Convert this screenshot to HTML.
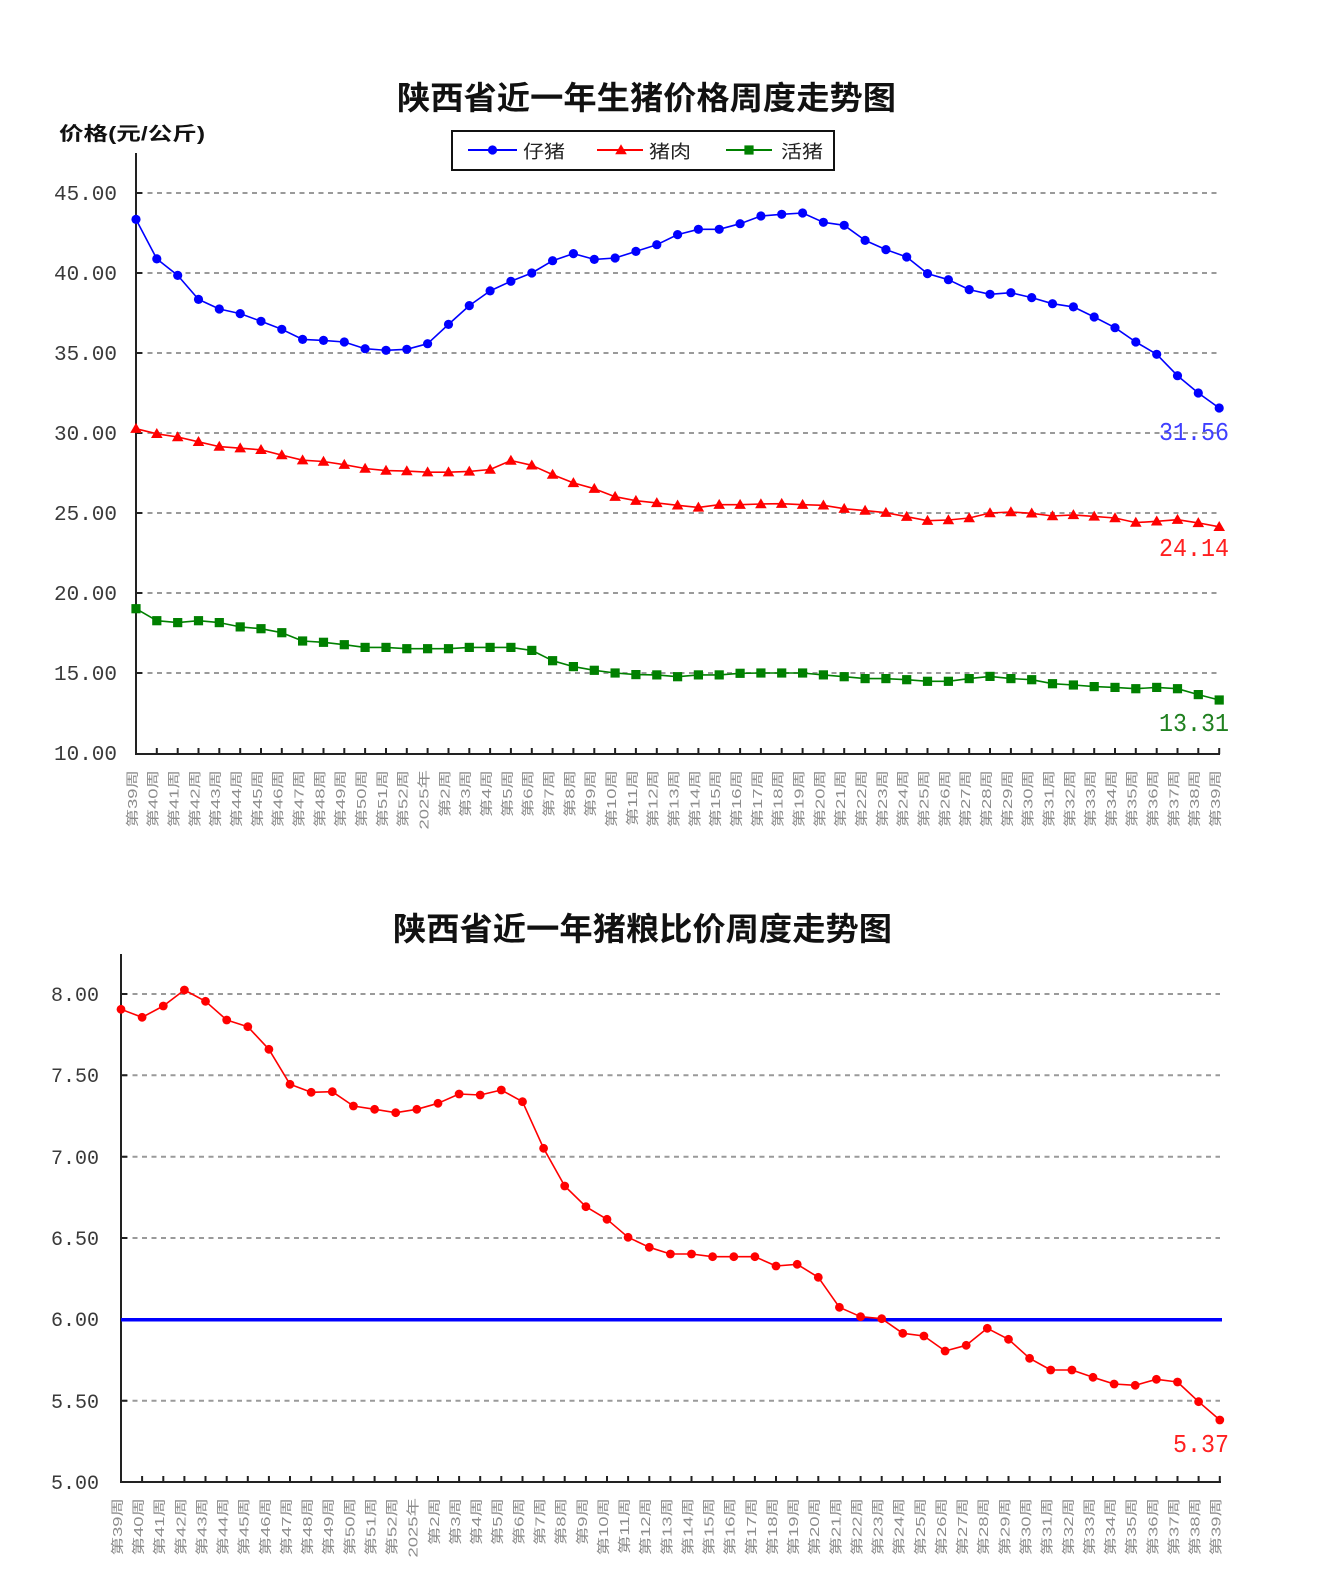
<!DOCTYPE html>
<html><head><meta charset="utf-8">
<style>
html,body{margin:0;padding:0;background:#fff;}
svg{display:block;}
.t{font-family:"Liberation Sans","Noto Sans CJK SC",sans-serif;font-weight:bold;fill:#111;}
.yl{font-family:"Liberation Mono",monospace;fill:#3a3a3a;text-anchor:end;}
.xl{font-family:"Liberation Sans","Noto Sans CJK SC",sans-serif;font-size:13px;fill:#8c8c8c;text-anchor:end;}
.dl{font-family:"Liberation Mono",monospace;text-anchor:end;}
.lg{font-family:"Liberation Sans","Noto Sans CJK SC",sans-serif;font-size:18px;fill:#222;}
</style></head>
<body>
<svg width="1324" height="1590" viewBox="0 0 1324 1590" xmlns="http://www.w3.org/2000/svg">
<defs>
<circle id="mb" r="4.6" fill="#0000ff"/>
<path id="mr" d="M0,-5.8 L5.8,4.2 L-5.8,4.2 Z" fill="#ff0000"/>
<rect id="mg" x="-4.6" y="-4.6" width="9.2" height="9.2" fill="#008000"/>
<circle id="mr2" r="4.4" fill="#ff0000"/>
</defs>
<rect width="1324" height="1590" fill="#fff"/>

<!-- ============ TOP CHART ============ -->
<text class="t" x="397" y="109" font-size="32" textLength="499" lengthAdjust="spacingAndGlyphs">陕西省近一年生猪价格周度走势图</text>
<text class="t" x="59" y="140" font-size="19" textLength="146" lengthAdjust="spacingAndGlyphs">价格(元/公斤)</text>

<!-- legend -->
<rect x="452" y="131" width="382" height="39" fill="#fff" stroke="#111" stroke-width="2"/>
<line x1="468" y1="150" x2="517" y2="150" stroke="#0000ff" stroke-width="2"/>
<use href="#mb" x="492.5" y="150"/>
<text class="lg" x="523" y="158" textLength="42" lengthAdjust="spacingAndGlyphs">仔猪</text>
<line x1="597" y1="150" x2="643" y2="150" stroke="#ff0000" stroke-width="2"/>
<use href="#mr" x="621" y="150"/>
<text class="lg" x="649" y="158" textLength="42" lengthAdjust="spacingAndGlyphs">猪肉</text>
<line x1="726" y1="150" x2="772" y2="150" stroke="#008000" stroke-width="2"/>
<use href="#mg" x="749" y="150"/>
<text class="lg" x="781" y="158" textLength="42" lengthAdjust="spacingAndGlyphs">活猪</text>

<!-- gridlines -->
<g stroke="#9a9a9a" stroke-width="2" stroke-dasharray="5 4.5">
<line x1="138" y1="193" x2="1219" y2="193"/>
<line x1="138" y1="273" x2="1219" y2="273"/>
<line x1="138" y1="353" x2="1219" y2="353"/>
<line x1="138" y1="433" x2="1219" y2="433"/>
<line x1="138" y1="513" x2="1219" y2="513"/>
<line x1="138" y1="593" x2="1219" y2="593"/>
<line x1="138" y1="673" x2="1219" y2="673"/>
</g>

<!-- y labels -->
<g class="yl" font-size="21">
<text x="117" y="200">45.00</text>
<text x="117" y="280">40.00</text>
<text x="117" y="360">35.00</text>
<text x="117" y="440">30.00</text>
<text x="117" y="520">25.00</text>
<text x="117" y="600">20.00</text>
<text x="117" y="680">15.00</text>
<text x="117" y="760">10.00</text>
</g>

<!-- axes -->
<path d="M136,153 V754 H1220" fill="none" stroke="#222" stroke-width="2"/>
<path d="M136,193h6M136,273h6M136,353h6M136,433h6M136,513h6M136,593h6M136,673h6" stroke="#222" stroke-width="2"/>
<path d="M156.8,754v-6M177.7,754v-6M198.5,754v-6M219.3,754v-6M240.2,754v-6M261,754v-6M281.8,754v-6M302.6,754v-6M323.5,754v-6M344.3,754v-6M365.1,754v-6M386,754v-6M406.8,754v-6M427.6,754v-6M448.5,754v-6M469.3,754v-6M490.1,754v-6M510.9,754v-6M531.8,754v-6M552.6,754v-6M573.4,754v-6M594.3,754v-6M615.1,754v-6M635.9,754v-6M656.8,754v-6M677.6,754v-6M698.4,754v-6M719.2,754v-6M740.1,754v-6M760.9,754v-6M781.7,754v-6M802.6,754v-6M823.4,754v-6M844.2,754v-6M865.1,754v-6M885.9,754v-6M906.7,754v-6M927.5,754v-6M948.4,754v-6M969.2,754v-6M990,754v-6M1010.9,754v-6M1031.7,754v-6M1052.5,754v-6M1073.4,754v-6M1094.2,754v-6M1115,754v-6M1135.8,754v-6M1156.7,754v-6M1177.5,754v-6M1198.3,754v-6M1219.2,754v-6" stroke="#222" stroke-width="2"/>

<!-- series: blue -->
<polyline fill="none" stroke="#0000ff" stroke-width="1.6" stroke-linejoin="round" points="136,219.4 156.8,258.9 177.7,275.4 198.5,299.4 219.3,309 240.2,313.6 261,321.3 281.8,329.3 302.6,339.4 323.5,340.4 344.3,342 365.1,348.7 386,350.3 406.8,349.3 427.6,343.7 448.5,324.4 469.3,305.6 490.1,290.9 510.9,281.3 531.8,273 552.6,260.7 573.4,253.6 594.3,259.4 615.1,258 635.9,251.4 656.8,244.7 677.6,234.6 698.4,229.3 719.2,229.3 740.1,223.7 760.9,216 781.7,214.3 802.6,213 823.4,222.3 844.2,225.3 865.1,240.4 885.9,249.6 906.7,257 927.5,273.6 948.4,279.7 969.2,289.6 990,294.3 1010.9,292.7 1031.7,297.6 1052.5,303.7 1073.4,306.9 1094.2,317 1115,327.7 1135.8,342 1156.7,354.3 1177.5,375.7 1198.3,393 1219.2,408"/>
<g>
<use href="#mb" x="136" y="219.4"/><use href="#mb" x="156.8" y="258.9"/><use href="#mb" x="177.7" y="275.4"/><use href="#mb" x="198.5" y="299.4"/><use href="#mb" x="219.3" y="309"/><use href="#mb" x="240.2" y="313.6"/><use href="#mb" x="261" y="321.3"/><use href="#mb" x="281.8" y="329.3"/><use href="#mb" x="302.6" y="339.4"/><use href="#mb" x="323.5" y="340.4"/><use href="#mb" x="344.3" y="342"/><use href="#mb" x="365.1" y="348.7"/><use href="#mb" x="386" y="350.3"/><use href="#mb" x="406.8" y="349.3"/><use href="#mb" x="427.6" y="343.7"/><use href="#mb" x="448.5" y="324.4"/><use href="#mb" x="469.3" y="305.6"/><use href="#mb" x="490.1" y="290.9"/><use href="#mb" x="510.9" y="281.3"/><use href="#mb" x="531.8" y="273"/><use href="#mb" x="552.6" y="260.7"/><use href="#mb" x="573.4" y="253.6"/><use href="#mb" x="594.3" y="259.4"/><use href="#mb" x="615.1" y="258"/><use href="#mb" x="635.9" y="251.4"/><use href="#mb" x="656.8" y="244.7"/><use href="#mb" x="677.6" y="234.6"/><use href="#mb" x="698.4" y="229.3"/><use href="#mb" x="719.2" y="229.3"/><use href="#mb" x="740.1" y="223.7"/><use href="#mb" x="760.9" y="216"/><use href="#mb" x="781.7" y="214.3"/><use href="#mb" x="802.6" y="213"/><use href="#mb" x="823.4" y="222.3"/><use href="#mb" x="844.2" y="225.3"/><use href="#mb" x="865.1" y="240.4"/><use href="#mb" x="885.9" y="249.6"/><use href="#mb" x="906.7" y="257"/><use href="#mb" x="927.5" y="273.6"/><use href="#mb" x="948.4" y="279.7"/><use href="#mb" x="969.2" y="289.6"/><use href="#mb" x="990" y="294.3"/><use href="#mb" x="1010.9" y="292.7"/><use href="#mb" x="1031.7" y="297.6"/><use href="#mb" x="1052.5" y="303.7"/><use href="#mb" x="1073.4" y="306.9"/><use href="#mb" x="1094.2" y="317"/><use href="#mb" x="1115" y="327.7"/><use href="#mb" x="1135.8" y="342"/><use href="#mb" x="1156.7" y="354.3"/><use href="#mb" x="1177.5" y="375.7"/><use href="#mb" x="1198.3" y="393"/><use href="#mb" x="1219.2" y="408"/>
</g>

<!-- series: red -->
<polyline fill="none" stroke="#ff0000" stroke-width="1.6" stroke-linejoin="round" points="136,428.7 156.8,433.8 177.7,437 198.5,441.8 219.3,446.6 240.2,448.2 261,449.8 281.8,455.1 302.6,460.2 323.5,461.5 344.3,464.7 365.1,468.5 386,470.6 406.8,471.1 427.6,472.2 448.5,472.2 469.3,471.4 490.1,469.5 510.9,460.5 531.8,465.3 552.6,474.6 573.4,482.9 594.3,488.7 615.1,496.7 635.9,500.7 656.8,502.9 677.6,505.3 698.4,507.4 719.2,504.7 740.1,504.7 760.9,504 781.7,503.7 802.6,504.7 823.4,505.3 844.2,508.7 865.1,510.6 885.9,512.7 906.7,516.7 927.5,520.7 948.4,520 969.2,518 990,513 1010.9,512 1031.7,513.3 1052.5,516 1073.4,514.9 1094.2,516.4 1115,518 1135.8,522.6 1156.7,521.3 1177.5,519.7 1198.3,522.9 1219.2,526.8"/>
<g>
<use href="#mr" x="136" y="428.7"/><use href="#mr" x="156.8" y="433.8"/><use href="#mr" x="177.7" y="437"/><use href="#mr" x="198.5" y="441.8"/><use href="#mr" x="219.3" y="446.6"/><use href="#mr" x="240.2" y="448.2"/><use href="#mr" x="261" y="449.8"/><use href="#mr" x="281.8" y="455.1"/><use href="#mr" x="302.6" y="460.2"/><use href="#mr" x="323.5" y="461.5"/><use href="#mr" x="344.3" y="464.7"/><use href="#mr" x="365.1" y="468.5"/><use href="#mr" x="386" y="470.6"/><use href="#mr" x="406.8" y="471.1"/><use href="#mr" x="427.6" y="472.2"/><use href="#mr" x="448.5" y="472.2"/><use href="#mr" x="469.3" y="471.4"/><use href="#mr" x="490.1" y="469.5"/><use href="#mr" x="510.9" y="460.5"/><use href="#mr" x="531.8" y="465.3"/><use href="#mr" x="552.6" y="474.6"/><use href="#mr" x="573.4" y="482.9"/><use href="#mr" x="594.3" y="488.7"/><use href="#mr" x="615.1" y="496.7"/><use href="#mr" x="635.9" y="500.7"/><use href="#mr" x="656.8" y="502.9"/><use href="#mr" x="677.6" y="505.3"/><use href="#mr" x="698.4" y="507.4"/><use href="#mr" x="719.2" y="504.7"/><use href="#mr" x="740.1" y="504.7"/><use href="#mr" x="760.9" y="504"/><use href="#mr" x="781.7" y="503.7"/><use href="#mr" x="802.6" y="504.7"/><use href="#mr" x="823.4" y="505.3"/><use href="#mr" x="844.2" y="508.7"/><use href="#mr" x="865.1" y="510.6"/><use href="#mr" x="885.9" y="512.7"/><use href="#mr" x="906.7" y="516.7"/><use href="#mr" x="927.5" y="520.7"/><use href="#mr" x="948.4" y="520"/><use href="#mr" x="969.2" y="518"/><use href="#mr" x="990" y="513"/><use href="#mr" x="1010.9" y="512"/><use href="#mr" x="1031.7" y="513.3"/><use href="#mr" x="1052.5" y="516"/><use href="#mr" x="1073.4" y="514.9"/><use href="#mr" x="1094.2" y="516.4"/><use href="#mr" x="1115" y="518"/><use href="#mr" x="1135.8" y="522.6"/><use href="#mr" x="1156.7" y="521.3"/><use href="#mr" x="1177.5" y="519.7"/><use href="#mr" x="1198.3" y="522.9"/><use href="#mr" x="1219.2" y="526.8"/>
</g>

<!-- series: green -->
<polyline fill="none" stroke="#008000" stroke-width="1.6" stroke-linejoin="round" points="136,608.7 156.8,620.7 177.7,622.6 198.5,620.7 219.3,622.6 240.2,626.9 261,628.7 281.8,632.7 302.6,641 323.5,642.3 344.3,644.7 365.1,647.4 386,647.4 406.8,648.7 427.6,648.7 448.5,648.7 469.3,647.4 490.1,647.4 510.9,647.4 531.8,650.4 552.6,660.7 573.4,666.6 594.3,670.3 615.1,673 635.9,674.6 656.8,674.9 677.6,676.7 698.4,674.9 719.2,674.9 740.1,673.3 760.9,673 781.7,673 802.6,673 823.4,674.9 844.2,676.7 865.1,678.6 885.9,678.6 906.7,679.7 927.5,681.3 948.4,681.3 969.2,678.6 990,676.4 1010.9,678.6 1031.7,679.7 1052.5,683.7 1073.4,685 1094.2,686.6 1115,687.4 1135.8,688.7 1156.7,687.4 1177.5,688.7 1198.3,694.6 1219.2,700"/>
<g>
<use href="#mg" x="136" y="608.7"/><use href="#mg" x="156.8" y="620.7"/><use href="#mg" x="177.7" y="622.6"/><use href="#mg" x="198.5" y="620.7"/><use href="#mg" x="219.3" y="622.6"/><use href="#mg" x="240.2" y="626.9"/><use href="#mg" x="261" y="628.7"/><use href="#mg" x="281.8" y="632.7"/><use href="#mg" x="302.6" y="641"/><use href="#mg" x="323.5" y="642.3"/><use href="#mg" x="344.3" y="644.7"/><use href="#mg" x="365.1" y="647.4"/><use href="#mg" x="386" y="647.4"/><use href="#mg" x="406.8" y="648.7"/><use href="#mg" x="427.6" y="648.7"/><use href="#mg" x="448.5" y="648.7"/><use href="#mg" x="469.3" y="647.4"/><use href="#mg" x="490.1" y="647.4"/><use href="#mg" x="510.9" y="647.4"/><use href="#mg" x="531.8" y="650.4"/><use href="#mg" x="552.6" y="660.7"/><use href="#mg" x="573.4" y="666.6"/><use href="#mg" x="594.3" y="670.3"/><use href="#mg" x="615.1" y="673"/><use href="#mg" x="635.9" y="674.6"/><use href="#mg" x="656.8" y="674.9"/><use href="#mg" x="677.6" y="676.7"/><use href="#mg" x="698.4" y="674.9"/><use href="#mg" x="719.2" y="674.9"/><use href="#mg" x="740.1" y="673.3"/><use href="#mg" x="760.9" y="673"/><use href="#mg" x="781.7" y="673"/><use href="#mg" x="802.6" y="673"/><use href="#mg" x="823.4" y="674.9"/><use href="#mg" x="844.2" y="676.7"/><use href="#mg" x="865.1" y="678.6"/><use href="#mg" x="885.9" y="678.6"/><use href="#mg" x="906.7" y="679.7"/><use href="#mg" x="927.5" y="681.3"/><use href="#mg" x="948.4" y="681.3"/><use href="#mg" x="969.2" y="678.6"/><use href="#mg" x="990" y="676.4"/><use href="#mg" x="1010.9" y="678.6"/><use href="#mg" x="1031.7" y="679.7"/><use href="#mg" x="1052.5" y="683.7"/><use href="#mg" x="1073.4" y="685"/><use href="#mg" x="1094.2" y="686.6"/><use href="#mg" x="1115" y="687.4"/><use href="#mg" x="1135.8" y="688.7"/><use href="#mg" x="1156.7" y="687.4"/><use href="#mg" x="1177.5" y="688.7"/><use href="#mg" x="1198.3" y="694.6"/><use href="#mg" x="1219.2" y="700"/>
</g>

<!-- data labels -->
<text class="dl" x="1229" y="440" font-size="26" fill="#4040ff" textLength="70" lengthAdjust="spacingAndGlyphs">31.56</text>
<text class="dl" x="1229" y="556" font-size="26" fill="#ff2020" textLength="70" lengthAdjust="spacingAndGlyphs">24.14</text>
<text class="dl" x="1229" y="731" font-size="26" fill="#208020" textLength="70" lengthAdjust="spacingAndGlyphs">13.31</text>

<!-- x labels top -->
<g class="xl">
<text transform="translate(132 770) rotate(-90) scale(1.42 1)" dy="0.38em">第39周</text>
<text transform="translate(152.8 770) rotate(-90) scale(1.42 1)" dy="0.38em">第40周</text>
<text transform="translate(173.7 770) rotate(-90) scale(1.42 1)" dy="0.38em">第41周</text>
<text transform="translate(194.5 770) rotate(-90) scale(1.42 1)" dy="0.38em">第42周</text>
<text transform="translate(215.3 770) rotate(-90) scale(1.42 1)" dy="0.38em">第43周</text>
<text transform="translate(236.2 770) rotate(-90) scale(1.42 1)" dy="0.38em">第44周</text>
<text transform="translate(257 770) rotate(-90) scale(1.42 1)" dy="0.38em">第45周</text>
<text transform="translate(277.8 770) rotate(-90) scale(1.42 1)" dy="0.38em">第46周</text>
<text transform="translate(298.6 770) rotate(-90) scale(1.42 1)" dy="0.38em">第47周</text>
<text transform="translate(319.5 770) rotate(-90) scale(1.42 1)" dy="0.38em">第48周</text>
<text transform="translate(340.3 770) rotate(-90) scale(1.42 1)" dy="0.38em">第49周</text>
<text transform="translate(361.1 770) rotate(-90) scale(1.42 1)" dy="0.38em">第50周</text>
<text transform="translate(382 770) rotate(-90) scale(1.42 1)" dy="0.38em">第51周</text>
<text transform="translate(402.8 770) rotate(-90) scale(1.42 1)" dy="0.38em">第52周</text>
<text transform="translate(423.6 770) rotate(-90) scale(1.42 1)" dy="0.38em">2025年</text>
<text transform="translate(444.5 770) rotate(-90) scale(1.42 1)" dy="0.38em">第2周</text>
<text transform="translate(465.3 770) rotate(-90) scale(1.42 1)" dy="0.38em">第3周</text>
<text transform="translate(486.1 770) rotate(-90) scale(1.42 1)" dy="0.38em">第4周</text>
<text transform="translate(506.9 770) rotate(-90) scale(1.42 1)" dy="0.38em">第5周</text>
<text transform="translate(527.8 770) rotate(-90) scale(1.42 1)" dy="0.38em">第6周</text>
<text transform="translate(548.6 770) rotate(-90) scale(1.42 1)" dy="0.38em">第7周</text>
<text transform="translate(569.4 770) rotate(-90) scale(1.42 1)" dy="0.38em">第8周</text>
<text transform="translate(590.3 770) rotate(-90) scale(1.42 1)" dy="0.38em">第9周</text>
<text transform="translate(611.1 770) rotate(-90) scale(1.42 1)" dy="0.38em">第10周</text>
<text transform="translate(631.9 770) rotate(-90) scale(1.42 1)" dy="0.38em">第11周</text>
<text transform="translate(652.8 770) rotate(-90) scale(1.42 1)" dy="0.38em">第12周</text>
<text transform="translate(673.6 770) rotate(-90) scale(1.42 1)" dy="0.38em">第13周</text>
<text transform="translate(694.4 770) rotate(-90) scale(1.42 1)" dy="0.38em">第14周</text>
<text transform="translate(715.2 770) rotate(-90) scale(1.42 1)" dy="0.38em">第15周</text>
<text transform="translate(736.1 770) rotate(-90) scale(1.42 1)" dy="0.38em">第16周</text>
<text transform="translate(756.9 770) rotate(-90) scale(1.42 1)" dy="0.38em">第17周</text>
<text transform="translate(777.7 770) rotate(-90) scale(1.42 1)" dy="0.38em">第18周</text>
<text transform="translate(798.6 770) rotate(-90) scale(1.42 1)" dy="0.38em">第19周</text>
<text transform="translate(819.4 770) rotate(-90) scale(1.42 1)" dy="0.38em">第20周</text>
<text transform="translate(840.2 770) rotate(-90) scale(1.42 1)" dy="0.38em">第21周</text>
<text transform="translate(861.1 770) rotate(-90) scale(1.42 1)" dy="0.38em">第22周</text>
<text transform="translate(881.9 770) rotate(-90) scale(1.42 1)" dy="0.38em">第23周</text>
<text transform="translate(902.7 770) rotate(-90) scale(1.42 1)" dy="0.38em">第24周</text>
<text transform="translate(923.5 770) rotate(-90) scale(1.42 1)" dy="0.38em">第25周</text>
<text transform="translate(944.4 770) rotate(-90) scale(1.42 1)" dy="0.38em">第26周</text>
<text transform="translate(965.2 770) rotate(-90) scale(1.42 1)" dy="0.38em">第27周</text>
<text transform="translate(986 770) rotate(-90) scale(1.42 1)" dy="0.38em">第28周</text>
<text transform="translate(1006.9 770) rotate(-90) scale(1.42 1)" dy="0.38em">第29周</text>
<text transform="translate(1027.7 770) rotate(-90) scale(1.42 1)" dy="0.38em">第30周</text>
<text transform="translate(1048.5 770) rotate(-90) scale(1.42 1)" dy="0.38em">第31周</text>
<text transform="translate(1069.4 770) rotate(-90) scale(1.42 1)" dy="0.38em">第32周</text>
<text transform="translate(1090.2 770) rotate(-90) scale(1.42 1)" dy="0.38em">第33周</text>
<text transform="translate(1111 770) rotate(-90) scale(1.42 1)" dy="0.38em">第34周</text>
<text transform="translate(1131.8 770) rotate(-90) scale(1.42 1)" dy="0.38em">第35周</text>
<text transform="translate(1152.7 770) rotate(-90) scale(1.42 1)" dy="0.38em">第36周</text>
<text transform="translate(1173.5 770) rotate(-90) scale(1.42 1)" dy="0.38em">第37周</text>
<text transform="translate(1194.3 770) rotate(-90) scale(1.42 1)" dy="0.38em">第38周</text>
<text transform="translate(1215.2 770) rotate(-90) scale(1.42 1)" dy="0.38em">第39周</text>
</g>

<!-- ============ BOTTOM CHART ============ -->
<text class="t" x="393" y="940" font-size="32" textLength="499" lengthAdjust="spacingAndGlyphs">陕西省近一年猪粮比价周度走势图</text>

<g stroke="#9a9a9a" stroke-width="2" stroke-dasharray="5 4.5">
<line x1="123" y1="994" x2="1220" y2="994"/>
<line x1="123" y1="1075.3" x2="1220" y2="1075.3"/>
<line x1="123" y1="1156.7" x2="1220" y2="1156.7"/>
<line x1="123" y1="1238" x2="1220" y2="1238"/>
<line x1="123" y1="1400.7" x2="1220" y2="1400.7"/>
</g>

<g class="yl" font-size="20">
<text x="99" y="1001">8.00</text>
<text x="99" y="1082">7.50</text>
<text x="99" y="1164">7.00</text>
<text x="99" y="1245">6.50</text>
<text x="99" y="1326">6.00</text>
<text x="99" y="1408">5.50</text>
<text x="99" y="1489">5.00</text>
</g>

<path d="M121,954 V1482 H1221" fill="none" stroke="#222" stroke-width="2"/>
<path d="M121,994h6M121,1075.3h6M121,1156.7h6M121,1238h6M121,1319.3h6M121,1400.7h6" stroke="#222" stroke-width="2"/>
<path d="M142.1,1482v-6M163.3,1482v-6M184.4,1482v-6M205.5,1482v-6M226.7,1482v-6M247.8,1482v-6M268.9,1482v-6M290,1482v-6M311.2,1482v-6M332.3,1482v-6M353.4,1482v-6M374.6,1482v-6M395.7,1482v-6M416.8,1482v-6M438,1482v-6M459.1,1482v-6M480.2,1482v-6M501.3,1482v-6M522.5,1482v-6M543.6,1482v-6M564.7,1482v-6M585.9,1482v-6M607,1482v-6M628.1,1482v-6M649.3,1482v-6M670.4,1482v-6M691.5,1482v-6M712.6,1482v-6M733.8,1482v-6M754.9,1482v-6M776,1482v-6M797.2,1482v-6M818.3,1482v-6M839.4,1482v-6M860.6,1482v-6M881.7,1482v-6M902.8,1482v-6M923.9,1482v-6M945.1,1482v-6M966.2,1482v-6M987.3,1482v-6M1008.5,1482v-6M1029.6,1482v-6M1050.7,1482v-6M1071.9,1482v-6M1093,1482v-6M1114.1,1482v-6M1135.2,1482v-6M1156.4,1482v-6M1177.5,1482v-6M1198.6,1482v-6M1219.8,1482v-6" stroke="#222" stroke-width="2"/>

<!-- 6.00 reference line -->
<line x1="121" y1="1319.8" x2="1222" y2="1319.8" stroke="#0000ff" stroke-width="3.5"/>

<polyline fill="none" stroke="#ff0000" stroke-width="1.6" stroke-linejoin="round" points="121,1009.3 142.1,1017.3 163.3,1006 184.4,990 205.5,1001.3 226.7,1020 247.8,1026.7 268.9,1049.3 290,1084.3 311.2,1092.3 332.3,1091.7 353.4,1106 374.6,1109.3 395.7,1112.7 416.8,1109.3 438,1103.3 459.1,1094 480.2,1095 501.3,1090 522.5,1101.7 543.6,1148.3 564.7,1186 585.9,1206.7 607,1219.3 628.1,1237.3 649.3,1247.3 670.4,1254 691.5,1254 712.6,1256.7 733.8,1256.7 754.9,1256.7 776,1266 797.2,1264.3 818.3,1277.3 839.4,1307.3 860.6,1316.7 881.7,1318.7 902.8,1333.3 923.9,1336 945.1,1351 966.2,1345.3 987.3,1328.3 1008.5,1339.3 1029.6,1358.3 1050.7,1370 1071.9,1370 1093,1377.3 1114.1,1384 1135.2,1385.3 1156.4,1379.3 1177.5,1382 1198.6,1401.7 1219.8,1420"/>
<g>
<use href="#mr2" x="121" y="1009.3"/><use href="#mr2" x="142.1" y="1017.3"/><use href="#mr2" x="163.3" y="1006"/><use href="#mr2" x="184.4" y="990"/><use href="#mr2" x="205.5" y="1001.3"/><use href="#mr2" x="226.7" y="1020"/><use href="#mr2" x="247.8" y="1026.7"/><use href="#mr2" x="268.9" y="1049.3"/><use href="#mr2" x="290" y="1084.3"/><use href="#mr2" x="311.2" y="1092.3"/><use href="#mr2" x="332.3" y="1091.7"/><use href="#mr2" x="353.4" y="1106"/><use href="#mr2" x="374.6" y="1109.3"/><use href="#mr2" x="395.7" y="1112.7"/><use href="#mr2" x="416.8" y="1109.3"/><use href="#mr2" x="438" y="1103.3"/><use href="#mr2" x="459.1" y="1094"/><use href="#mr2" x="480.2" y="1095"/><use href="#mr2" x="501.3" y="1090"/><use href="#mr2" x="522.5" y="1101.7"/><use href="#mr2" x="543.6" y="1148.3"/><use href="#mr2" x="564.7" y="1186"/><use href="#mr2" x="585.9" y="1206.7"/><use href="#mr2" x="607" y="1219.3"/><use href="#mr2" x="628.1" y="1237.3"/><use href="#mr2" x="649.3" y="1247.3"/><use href="#mr2" x="670.4" y="1254"/><use href="#mr2" x="691.5" y="1254"/><use href="#mr2" x="712.6" y="1256.7"/><use href="#mr2" x="733.8" y="1256.7"/><use href="#mr2" x="754.9" y="1256.7"/><use href="#mr2" x="776" y="1266"/><use href="#mr2" x="797.2" y="1264.3"/><use href="#mr2" x="818.3" y="1277.3"/><use href="#mr2" x="839.4" y="1307.3"/><use href="#mr2" x="860.6" y="1316.7"/><use href="#mr2" x="881.7" y="1318.7"/><use href="#mr2" x="902.8" y="1333.3"/><use href="#mr2" x="923.9" y="1336"/><use href="#mr2" x="945.1" y="1351"/><use href="#mr2" x="966.2" y="1345.3"/><use href="#mr2" x="987.3" y="1328.3"/><use href="#mr2" x="1008.5" y="1339.3"/><use href="#mr2" x="1029.6" y="1358.3"/><use href="#mr2" x="1050.7" y="1370"/><use href="#mr2" x="1071.9" y="1370"/><use href="#mr2" x="1093" y="1377.3"/><use href="#mr2" x="1114.1" y="1384"/><use href="#mr2" x="1135.2" y="1385.3"/><use href="#mr2" x="1156.4" y="1379.3"/><use href="#mr2" x="1177.5" y="1382"/><use href="#mr2" x="1198.6" y="1401.7"/><use href="#mr2" x="1219.8" y="1420"/>
</g>

<text class="dl" x="1229" y="1452" font-size="26" fill="#ff2020" textLength="56" lengthAdjust="spacingAndGlyphs">5.37</text>

<!-- x labels bottom -->
<g class="xl">
<text transform="translate(117 1498) rotate(-90) scale(1.42 1)" dy="0.38em">第39周</text>
<text transform="translate(138.1 1498) rotate(-90) scale(1.42 1)" dy="0.38em">第40周</text>
<text transform="translate(159.3 1498) rotate(-90) scale(1.42 1)" dy="0.38em">第41周</text>
<text transform="translate(180.4 1498) rotate(-90) scale(1.42 1)" dy="0.38em">第42周</text>
<text transform="translate(201.5 1498) rotate(-90) scale(1.42 1)" dy="0.38em">第43周</text>
<text transform="translate(222.7 1498) rotate(-90) scale(1.42 1)" dy="0.38em">第44周</text>
<text transform="translate(243.8 1498) rotate(-90) scale(1.42 1)" dy="0.38em">第45周</text>
<text transform="translate(264.9 1498) rotate(-90) scale(1.42 1)" dy="0.38em">第46周</text>
<text transform="translate(286 1498) rotate(-90) scale(1.42 1)" dy="0.38em">第47周</text>
<text transform="translate(307.2 1498) rotate(-90) scale(1.42 1)" dy="0.38em">第48周</text>
<text transform="translate(328.3 1498) rotate(-90) scale(1.42 1)" dy="0.38em">第49周</text>
<text transform="translate(349.4 1498) rotate(-90) scale(1.42 1)" dy="0.38em">第50周</text>
<text transform="translate(370.6 1498) rotate(-90) scale(1.42 1)" dy="0.38em">第51周</text>
<text transform="translate(391.7 1498) rotate(-90) scale(1.42 1)" dy="0.38em">第52周</text>
<text transform="translate(412.8 1498) rotate(-90) scale(1.42 1)" dy="0.38em">2025年</text>
<text transform="translate(434 1498) rotate(-90) scale(1.42 1)" dy="0.38em">第2周</text>
<text transform="translate(455.1 1498) rotate(-90) scale(1.42 1)" dy="0.38em">第3周</text>
<text transform="translate(476.2 1498) rotate(-90) scale(1.42 1)" dy="0.38em">第4周</text>
<text transform="translate(497.3 1498) rotate(-90) scale(1.42 1)" dy="0.38em">第5周</text>
<text transform="translate(518.5 1498) rotate(-90) scale(1.42 1)" dy="0.38em">第6周</text>
<text transform="translate(539.6 1498) rotate(-90) scale(1.42 1)" dy="0.38em">第7周</text>
<text transform="translate(560.7 1498) rotate(-90) scale(1.42 1)" dy="0.38em">第8周</text>
<text transform="translate(581.9 1498) rotate(-90) scale(1.42 1)" dy="0.38em">第9周</text>
<text transform="translate(603 1498) rotate(-90) scale(1.42 1)" dy="0.38em">第10周</text>
<text transform="translate(624.1 1498) rotate(-90) scale(1.42 1)" dy="0.38em">第11周</text>
<text transform="translate(645.3 1498) rotate(-90) scale(1.42 1)" dy="0.38em">第12周</text>
<text transform="translate(666.4 1498) rotate(-90) scale(1.42 1)" dy="0.38em">第13周</text>
<text transform="translate(687.5 1498) rotate(-90) scale(1.42 1)" dy="0.38em">第14周</text>
<text transform="translate(708.6 1498) rotate(-90) scale(1.42 1)" dy="0.38em">第15周</text>
<text transform="translate(729.8 1498) rotate(-90) scale(1.42 1)" dy="0.38em">第16周</text>
<text transform="translate(750.9 1498) rotate(-90) scale(1.42 1)" dy="0.38em">第17周</text>
<text transform="translate(772 1498) rotate(-90) scale(1.42 1)" dy="0.38em">第18周</text>
<text transform="translate(793.2 1498) rotate(-90) scale(1.42 1)" dy="0.38em">第19周</text>
<text transform="translate(814.3 1498) rotate(-90) scale(1.42 1)" dy="0.38em">第20周</text>
<text transform="translate(835.4 1498) rotate(-90) scale(1.42 1)" dy="0.38em">第21周</text>
<text transform="translate(856.6 1498) rotate(-90) scale(1.42 1)" dy="0.38em">第22周</text>
<text transform="translate(877.7 1498) rotate(-90) scale(1.42 1)" dy="0.38em">第23周</text>
<text transform="translate(898.8 1498) rotate(-90) scale(1.42 1)" dy="0.38em">第24周</text>
<text transform="translate(919.9 1498) rotate(-90) scale(1.42 1)" dy="0.38em">第25周</text>
<text transform="translate(941.1 1498) rotate(-90) scale(1.42 1)" dy="0.38em">第26周</text>
<text transform="translate(962.2 1498) rotate(-90) scale(1.42 1)" dy="0.38em">第27周</text>
<text transform="translate(983.3 1498) rotate(-90) scale(1.42 1)" dy="0.38em">第28周</text>
<text transform="translate(1004.5 1498) rotate(-90) scale(1.42 1)" dy="0.38em">第29周</text>
<text transform="translate(1025.6 1498) rotate(-90) scale(1.42 1)" dy="0.38em">第30周</text>
<text transform="translate(1046.7 1498) rotate(-90) scale(1.42 1)" dy="0.38em">第31周</text>
<text transform="translate(1067.9 1498) rotate(-90) scale(1.42 1)" dy="0.38em">第32周</text>
<text transform="translate(1089 1498) rotate(-90) scale(1.42 1)" dy="0.38em">第33周</text>
<text transform="translate(1110.1 1498) rotate(-90) scale(1.42 1)" dy="0.38em">第34周</text>
<text transform="translate(1131.2 1498) rotate(-90) scale(1.42 1)" dy="0.38em">第35周</text>
<text transform="translate(1152.4 1498) rotate(-90) scale(1.42 1)" dy="0.38em">第36周</text>
<text transform="translate(1173.5 1498) rotate(-90) scale(1.42 1)" dy="0.38em">第37周</text>
<text transform="translate(1194.6 1498) rotate(-90) scale(1.42 1)" dy="0.38em">第38周</text>
<text transform="translate(1215.8 1498) rotate(-90) scale(1.42 1)" dy="0.38em">第39周</text>
</g>
</svg>
</body></html>
